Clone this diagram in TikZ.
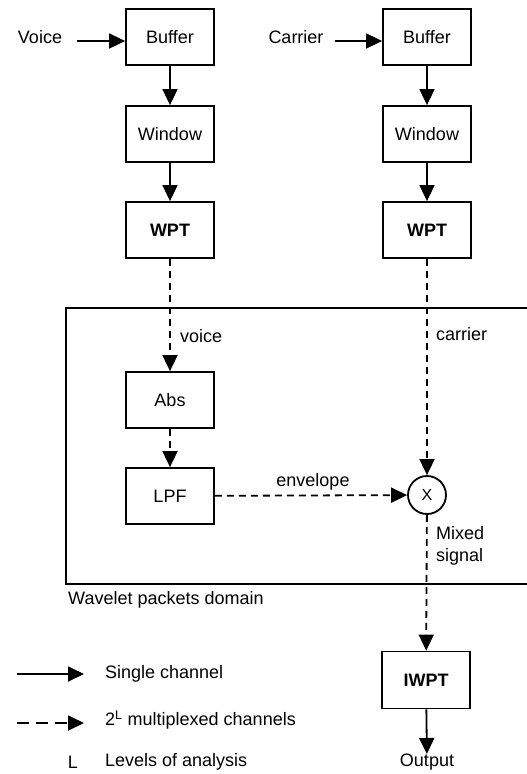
\documentclass[tikz,border=0pt]{standalone}
\usepackage{fontspec}
\setmainfont{Liberation Sans}
\usetikzlibrary{arrows.meta}
\begin{document}
\begin{tikzpicture}[x=1pt,y=-1pt,
  font=\fontsize{18}{22}\selectfont,
  blk/.style={draw,line width=1.8pt,minimum width=88pt,minimum height=56pt,inner sep=0pt},
  lbl/.style={inner sep=0pt},
  sarr/.style={line width=1.8pt,-{Triangle[length=16pt,width=15pt]}},
  darr/.style={line width=1.8pt,dash pattern=on 7pt off 5pt,-{Triangle[length=16pt,width=15pt]}},
  legdarr/.style={line width=1.8pt,dash pattern=on 12pt off 7pt,-{Triangle[length=16pt,width=15pt]}}]
\useasboundingbox (0,0) rectangle (527,774);
% domain box (open on the right)
\draw[line width=1.8pt] (528,308) -- (66,308) -- (66,584) -- (528,584);
\node[lbl,anchor=west] (wpd) at (68,600) {Wavelet packets domain};
% left chain
\node[blk] (buf1) at (170,37) {Buffer};
\node[blk] (win1) at (170,134) {Window};
\node[blk] (wpt1) at (170,230) {\bfseries WPT};
\node[blk] (abs) at (170,400) {Abs};
\node[blk] (lpf) at (170,496) {LPF};
% right chain
\node[blk] (buf2) at (427,37) {Buffer};
\node[blk] (win2) at (427,134) {Window};
\node[blk] (wpt2) at (427,230) {\bfseries WPT};
\node[draw,circle,line width=1.8pt,minimum size=38pt,inner sep=0pt,font=\fontsize{16}{18}\selectfont] (mix) at (427,495) {X};
\node[blk,minimum height=57pt] (iwpt) at (426,680) {\bfseries IWPT};
\node[lbl,anchor=north] (out) at (427,754) {Output};
% inputs
\node[lbl] (voice) at (40,37) {Voice};
\node[lbl] (carrier) at (296,37) {Carrier};
\coordinate (vin) at (77,41);
\coordinate (cin) at (335,41);
\draw[sarr] (vin) -- (vin -| buf1.west);
\draw[sarr] (cin) -- (cin -| buf2.west);
\draw[sarr] (buf1) -- (win1);
\draw[sarr] (win1) -- (wpt1);
\draw[sarr] (buf2) -- (win2);
\draw[sarr] (win2) -- (wpt2);
% dashed flows
\draw[darr] (wpt1) -- (abs);
\draw[darr] (abs) -- (lpf);
\draw[darr] (lpf) -- (mix);
\draw[darr] (wpt2) -- (mix);
\draw[darr] (mix) -- (iwpt);
\draw[sarr] (iwpt) -- (out);
% labels
\node[lbl,anchor=west] (lv) at (180,336) {voice};
\node[lbl,anchor=west] (lc) at (436,334) {carrier};
\node[lbl] (le) at (313,482) {envelope};
\node[lbl,anchor=west,align=left] (lm) at (436,546) {Mixed\\signal};
% legend
\coordinate (l1a) at (17,674);
\coordinate (l1b) at (84,674);
\coordinate (l2a) at (17,723);
\coordinate (l2b) at (84,723);
\draw[sarr] (l1a) -- (l1b);
\draw[legdarr] (l2a) -- (l2b);
\node[lbl,anchor=west] (t1) at (105,674) {Single channel};
\node[lbl,anchor=west] (t2) at (105,720) {2\textsuperscript{L} multiplexed channels};
\node[lbl] (t3a) at (73,762) {L};
\node[lbl,anchor=west] (t3) at (105,762) {Levels of analysis};
\end{tikzpicture}
\end{document}
